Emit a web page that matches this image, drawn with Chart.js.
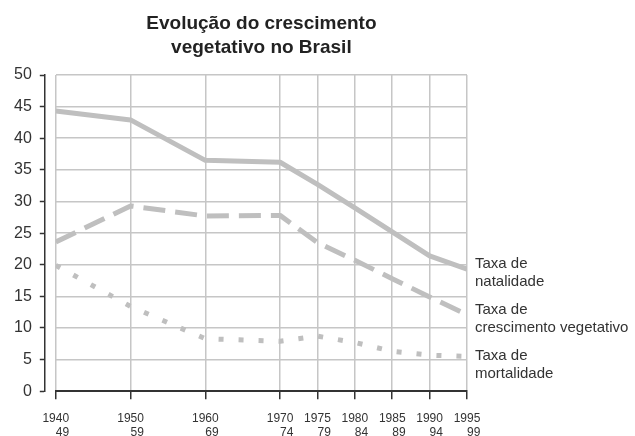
<!DOCTYPE html>
<html>
<head>
<meta charset="utf-8">
<script src="https://cdn.jsdelivr.net/npm/chart.js@4"></script>
<style>
  body { margin: 0; background: #fff; }
  #wrap { width: 635px; height: 436px; position: relative; }
</style>
</head>
<body>
<div id="wrap"><canvas id="chart"></canvas></div>
<script>
// Data
const years = [1940, 1950, 1960, 1970, 1975, 1980, 1985, 1990, 1995];
const periodEnds = ['49', '59', '69', '74', '79', '84', '89', '94', '99'];
const natalidade = [44.3, 42.9, 36.5, 36.2, 32.7, 29.0, 25.2, 21.4, 19.3];
const crescimento = [23.6, 29.3, 27.7, 27.8, 23.5, 20.7, 17.8, 14.9, 12.1];
const mortalidade = [19.9, 13.4, 8.3, 7.9, 8.7, 7.7, 6.3, 5.7, 5.5];
const seriesNames = [['Taxa de', 'natalidade'], ['Taxa de', 'crescimento vegetativo'], ['Taxa de', 'mortalidade']];
const yTicks = [0, 5, 10, 15, 20, 25, 30, 35, 40, 45, 50];

const FONT = '"Liberation Sans", Arial, sans-serif';
const LINE = '#bfbfbf';
const GRID = '#c6c6c6';
const INK = '#333';

const toPoints = vals => years.map((yr, i) => ({ x: yr, y: vals[i] }));

// names at the right end of each line, pushed down so blocks don't collide
const endLabels = {
    id: 'endLabels',
    afterDatasetsDraw(chart) {
        const ctx = chart.ctx;
        const lineGap = 18, blockGap = 46;
        let prevTop = -Infinity;
        ctx.save();
        ctx.font = '15px ' + FONT;
        ctx.fillStyle = INK;
        ctx.textBaseline = 'middle';
        chart.data.datasets.forEach((ds, i) => {
            const pts = chart.getDatasetMeta(i).data;
            const last = pts[pts.length - 1];
            const lines = seriesNames[i];
            let top = last.y + 4 - (lines.length - 1) * lineGap / 2;
            top = Math.max(top, prevTop + blockGap);
            prevTop = top;
            lines.forEach((t, j) => ctx.fillText(t, chart.chartArea.right + 8, top + j * lineGap));
        });
        ctx.restore();
    }
};

const yRange = {
    min: 0,
    max: 50,
    afterBuildTicks: scale => { scale.ticks = yTicks.map(v => ({ value: v })); }
};

new Chart(document.getElementById('chart'), {
    type: 'line',
    data: {
        datasets: [{
            label: 'Taxa de natalidade',
            data: toPoints(natalidade),
            borderColor: LINE,
            borderWidth: 5
        }, {
            label: 'Taxa de crescimento vegetativo',
            data: toPoints(crescimento),
            borderColor: LINE,
            borderWidth: 5,
            borderDash: [22, 10]
        }, {
            label: 'Taxa de mortalidade',
            data: toPoints(mortalidade),
            borderColor: LINE,
            borderWidth: 5,
            borderDash: [5, 15]
        }]
    },
    options: {
        responsive: true,
        maintainAspectRatio: false,
        animation: false,
        layout: { padding: { left: 6, right: 168, top: 0, bottom: -16 } },
        elements: {
            point: { radius: 0 },
            line: { tension: 0, borderCapStyle: 'butt', borderJoinStyle: 'round' }
        },
        plugins: {
            legend: { display: false },
            tooltip: { enabled: false },
            title: {
                display: true,
                fullSize: false,
                text: ['Evolução do crescimento', 'vegetativo no Brasil'],
                color: '#222',
                font: { family: FONT, size: 19, weight: 'bold', lineHeight: 1.25 },
                padding: { top: 12, bottom: 15.5 }
            }
        },
        scales: {
            x: {
                type: 'linear',
                min: 1940,
                max: 1995,
                afterBuildTicks: scale => { scale.ticks = years.map(v => ({ value: v })); },
                border: { display: true, color: INK, width: 2 },
                grid: { color: GRID, lineWidth: 1.5, tickColor: INK, tickLength: 8, tickWidth: 1.5 },
                ticks: {
                    autoSkip: false,
                    maxRotation: 0,
                    padding: 12,
                    color: INK,
                    font: { family: FONT, size: 12, lineHeight: 1.2 },
                    callback: value => {
                        const i = years.indexOf(value);
                        return [String(value), '\u2007\u2007' + periodEnds[i]];
                    }
                }
            },
            // inner spacer axis: keeps the gap between the axis line and the grid
            y: {
                ...yRange,
                position: 'left',
                afterFit: scale => { scale.width = 11; },
                border: { display: false },
                grid: { color: GRID, lineWidth: 1.5, drawTicks: false },
                ticks: { display: false }
            },
            yAxis: {
                ...yRange,
                position: 'left',
                border: { display: true, color: INK, width: 1.5 },
                grid: { drawOnChartArea: false, tickColor: INK, tickLength: 5, tickWidth: 1.5 },
                ticks: {
                    padding: 8,
                    color: INK,
                    font: { family: FONT, size: 16 }
                }
            }
        }
    },
    plugins: [endLabels]
});
</script>
</body>
</html>
